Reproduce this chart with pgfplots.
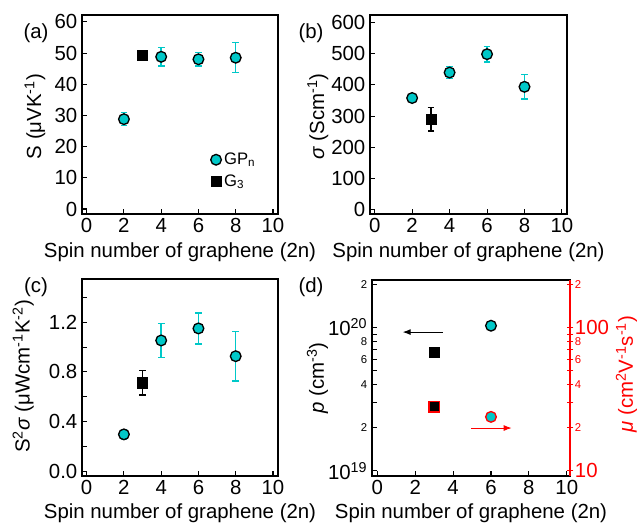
\documentclass[border=0pt]{standalone}
\usepackage{fontspec}
\setmainfont{Liberation Sans}
\usepackage{pgfplots}
\pgfplotsset{compat=1.18}
\usetikzlibrary{arrows.meta}
\definecolor{cy}{RGB}{0,200,200}
\definecolor{rd}{RGB}{255,0,0}
\newcommand{\bfz}{\fontsize{15.3}{18}\selectfont}
\newcommand{\sm}{\fontsize{8.5}{10}\selectfont}
\pgfplotsset{
 panel/.style={
  scale only axis, width=147pt, height=149.25pt,
  xmin=-0.25, xmax=10.27,
  xtick={0,2,...,10},
  tick align=inside, tick pos=left, major tick length=4pt,
  axis line style={line width=1pt},
  every tick/.style={line width=0.8pt, black},
  /pgf/number format/assume math mode=true,
  tick label style={font=\bfz},
  label style={font=\bfz},
  xlabel={Spin number of graphene (2n)},
  xlabel style={at={(axis description cs:0.5,-0.19)}, anchor=center},
  clip=false,
 },
 gp/.style={only marks, mark=*, mark size=4pt,
  mark options={fill=cy, draw=black, line width=1pt},
  error bars/.cd, y dir=both, y explicit,
  error bar style={cy, line width=1.1pt},
  error mark options={rotate=90, mark size=2.5pt, cy, line width=1.1pt}},
 gt/.style={only marks, mark=square*, mark size=3.8pt,
  mark options={fill=black, draw=black},
  error bars/.cd, y dir=both, y explicit,
  error bar style={black, line width=1.1pt},
  error mark options={rotate=90, mark size=2.5pt, black, line width=1.1pt}},
}
\begin{document}
\begin{tikzpicture}
\useasboundingbox (0,0) rectangle (478.5pt,393.75pt);
% (a)
\begin{axis}[panel, at={(61.5pt,233.25pt)}, anchor=south west,
  ymin=-1.6, ymax=62.2, ytick={0,10,...,60},
  ylabel={S (μVK\textsuperscript{-1})},
  ylabel style={at={(axis description cs:-0.24,0.49)}, anchor=center},
  legend style={at={(0.635,0.335)}, anchor=north west, draw=none, fill=none,
    font=\fontsize{12.5}{14}\selectfont, row sep=2pt},
  legend cell align=left]
\addplot[gp] coordinates {(2,28.8) +- (0,2.1) (4,48.8) +- (0,3.0) (6,48.0) +- (0,2.2) (8,48.5) +- (0,4.8)};
\addlegendentry{GP\textsubscript{n}}
\addplot[gt] coordinates {(3,49.4) +- (0,0)};
\addlegendentry{G\textsubscript{3}}
\end{axis}
% (b)
\begin{axis}[panel, at={(277.5pt,233.25pt)}, anchor=south west, width=147.75pt,
  ymin=-15, ymax=625, ytick={0,100,...,600},
  ylabel={\textit{σ} (Scm\textsuperscript{-1})},
  ylabel style={at={(axis description cs:-0.265,0.49)}, anchor=center}]
\addplot[gp] coordinates {(2,358) +- (0,8) (4,440) +- (0,19) (6,499) +- (0,25) (8,394) +- (0,39)};
\addplot[gt] coordinates {(3,290) +- (0,38)};
\end{axis}
% (c)
\begin{axis}[panel, at={(61.5pt,36.75pt)}, anchor=south west, height=147.75pt,
  ymin=-0.04, ymax=1.55, ytick={0,0.2,...,1.4},
  yticklabels={0.0,,0.4,,0.8,,1.2,},
  ylabel={S\textsuperscript{2}\textit{σ} (μWcm\textsuperscript{-1}K\textsuperscript{-2})},
  ylabel style={at={(axis description cs:-0.30,0.505)}, anchor=center}]
\addplot[gp] coordinates {(2,0.296) +- (0,0.04) (4,1.054) +- (0,0.137) (6,1.151) +- (0,0.125) (8,0.927) +- (0,0.2)};
\addplot[gt] coordinates {(3,0.712) +- (0,0.1)};
\end{axis}
% (d) left
\begin{axis}[panel, at={(279pt,36.75pt)}, anchor=south west, width=148.5pt, height=147pt,
  xmin=-0.28, xmax=10.17,
  ymode=log, ymin=9.2e18, ymax=2.15e20,
  ytick={1e19,2e19,3e19,4e19,5e19,6e19,7e19,8e19,9e19,1e20,2e20},
  yticklabels={{10\textsuperscript{19}},{\sm 2},{},{\sm 4},{},{\sm 6},{},{\sm 8},{},{10\textsuperscript{20}},{\sm 2}},
  minor ytick={},
  ylabel={\textit{p} (cm\textsuperscript{-3})},
  ylabel style={at={(axis description cs:-0.275,0.5)}, anchor=center}]
\addplot[only marks, mark=square*, mark size=3.8pt, mark options={fill=black,draw=black}] coordinates {(3,6.7e19)};
\addplot[only marks, mark=*, mark size=4pt, mark options={fill=cy,draw=black,line width=1pt}] coordinates {(6,1.03e20)};
\draw[-{Latex[length=6pt,width=4.5pt]}, line width=0.7pt, black] (axis cs:3.45,9.3e19) -- (axis cs:1.34,9.3e19);
\end{axis}
% (d) right
\begin{axis}[scale only axis, at={(279pt,36.75pt)}, anchor=south west, width=148.5pt, height=147pt,
  xmin=-0.28, xmax=10.17, axis x line=none, axis y line*=right,
  ymode=log, ymin=9.2, ymax=215,
  ytick={10,20,30,40,50,60,70,80,90,100,200},
  yticklabels={{10},{\sm 2},{},{\sm 4},{},{\sm 6},{},{\sm 8},{},{100},{\sm 2}},
  minor ytick={},
  tick align=center, major tick length=5pt,
  y axis line style={rd, line width=1pt},
  every tick/.style={line width=0.8pt, rd},
  yticklabel style={font=\bfz, rd, inner sep=1pt},
  ylabel={\textit{μ} (cm\textsuperscript{2}V\textsuperscript{-1}s\textsuperscript{-1})},
  ylabel style={font=\bfz, rd, at={(axis description cs:1.285,0.52)}, anchor=center},
  clip=false]
\addplot[only marks, mark=square*, mark size=3.8pt, mark options={fill=black,draw=rd,line width=1pt}] coordinates {(3,28)};
\addplot[only marks, mark=*, mark size=4pt, mark options={fill=cy,draw=rd,line width=1pt}] coordinates {(6,23.8)};
\draw[-{Latex[length=6pt,width=4.5pt]}, line width=0.7pt, rd] (axis cs:4.97,19.9) -- (axis cs:7.09,19.9);
\end{axis}
% panel letters
\node[font=\bfz] at (27pt,369pt) {(a)};
\node[font=\bfz] at (233.25pt,369pt) {(b)};
\node[font=\bfz] at (27pt,178.5pt) {(c)};
\node[font=\bfz] at (233.25pt,178.5pt) {(d)};
\end{tikzpicture}
\end{document}
